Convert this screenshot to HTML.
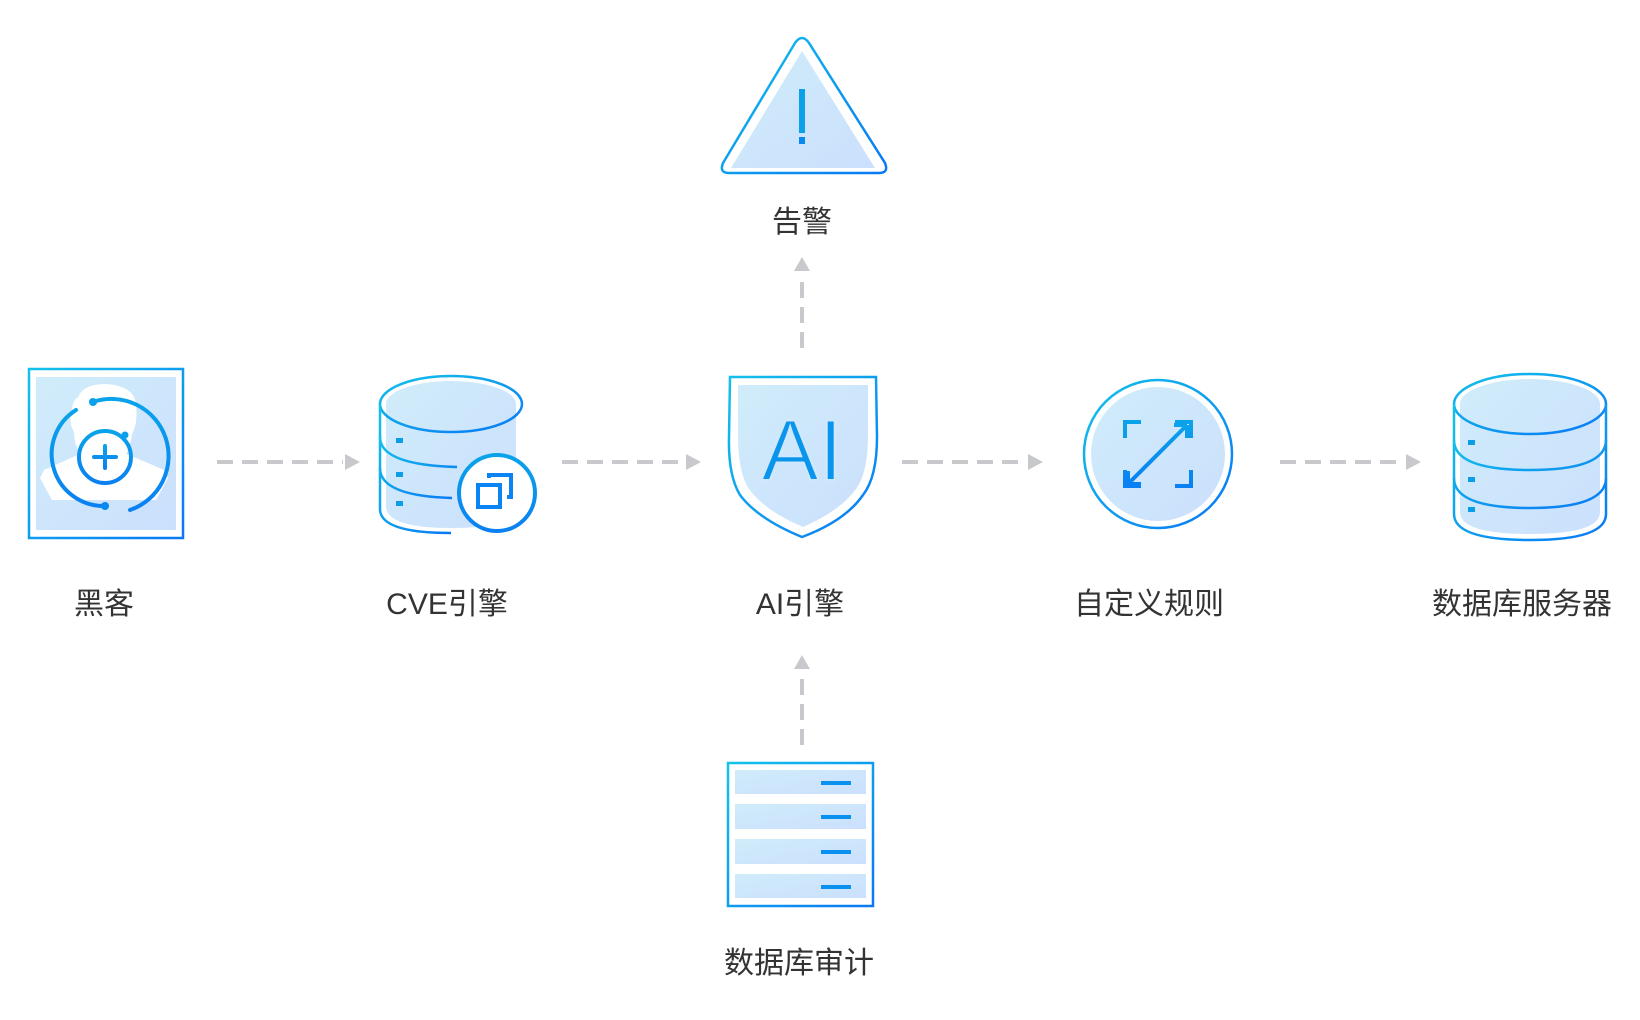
<!DOCTYPE html>
<html><head><meta charset="utf-8"><style>
html,body{margin:0;padding:0;background:#fff;}
svg{display:block}
text{font-family:"Liberation Sans","Noto Sans CJK SC",sans-serif;font-size:30px;fill:#333;text-anchor:middle;}
</style></head><body>
<svg width="1640" height="1020" viewBox="0 0 1640 1020" xmlns="http://www.w3.org/2000/svg">
<defs>
<linearGradient id="f" x1="0" y1="0" x2="1" y2="1"><stop offset="0" stop-color="#d0ecfa"/><stop offset="1" stop-color="#cbe0fd"/></linearGradient>
<linearGradient id="s" x1="0" y1="0" x2="1" y2="1"><stop offset="0" stop-color="#12c2ea"/><stop offset="1" stop-color="#0a78f5"/></linearGradient>
<linearGradient id="b" x1="0" y1="0" x2="0" y2="1"><stop offset="0" stop-color="#0aa3ea"/><stop offset="1" stop-color="#0a80f2"/></linearGradient>
</defs>
<g fill="none" stroke="#c8c9cc" stroke-width="4" stroke-dasharray="16 9">
<line x1="217" y1="462" x2="343" y2="462"/>
<line x1="562" y1="462" x2="684" y2="462"/>
<line x1="902" y1="462" x2="1026" y2="462"/>
<line x1="1280" y1="462" x2="1404" y2="462"/>
<line x1="802" y1="348" x2="802" y2="274"/>
<line x1="802" y1="745" x2="802" y2="672"/>
</g>
<g fill="#c8c9cc">
<polygon points="345,454 360,462 345,470"/>
<polygon points="686,454 701,462 686,470"/>
<polygon points="1028,454 1043,462 1028,470"/>
<polygon points="1406,454 1421,462 1406,470"/>
<polygon points="794,271 802,257 810,271"/>
<polygon points="794,669 802,655 810,669"/>
</g>
<!-- hacker -->
<rect x="29" y="369" width="154" height="169" fill="#fff" stroke="url(#s)" stroke-width="2.5"/>
<rect x="36" y="377" width="140" height="153" fill="url(#f)"/>
<path d="M78 398 q4 -14 28 -14 q28 2 30 20 q2 20 -4 30 q-2 14 -6 20 q20 8 38 16 l4 8 l-12 22 l-104 0 l-12 -22 l4 -8 q18 -8 36 -16 q-6 -10 -6 -22 q-6 -10 -2 -22 q0 -10 8 -14z" fill="#fff"/>
<g fill="none" stroke="url(#b)" stroke-width="4" stroke-linecap="round">
<path d="M93 402 A52 52 0 0 1 130 510"/>
<path d="M76 410 A52 52 0 0 0 105 506"/>
<circle cx="105" cy="457" r="26"/>
<path d="M94 457 h22 M105 446 v22"/>
</g>
<circle cx="93" cy="402" r="4" fill="#0aa0ea"/><circle cx="105" cy="506" r="4" fill="#0a88f0"/><circle cx="125" cy="435" r="3.5" fill="#0aa0ea"/>
<!-- CVE db -->
<path d="M386 404 a65 23 0 0 1 130 0 v102 q0 22 -65 22 q-65 0 -65 -22z" fill="url(#f)"/>
<g fill="none" stroke="url(#s)" stroke-width="2.5">
<ellipse cx="451" cy="404" rx="71" ry="28"/>
<path d="M380 404 v105 q0 24 71 24"/>
<path d="M522 404 v60"/>
<path d="M380 437 q0 28 77 30 M380 468 q0 28 72 30"/>
</g>
<g fill="#0a9ee8"><rect x="396" y="438" width="7" height="5"/><rect x="396" y="472" width="7" height="5"/><rect x="396" y="501" width="7" height="5"/></g>
<circle cx="497" cy="493" r="38" fill="#fff" stroke="url(#b)" stroke-width="4"/>
<g fill="none" stroke="#0a84f2" stroke-width="4"><rect x="478" y="485" width="22" height="22"/><path d="M489 478 v-3 h22 v22 h-4"/></g>
<!-- AI shield -->
<path d="M730 377 h146 l1 60 q0 40 -14 58 q-18 26 -61 42 q-44 -18 -62 -42 q-12 -20 -11 -58z" fill="#fff" stroke="url(#s)" stroke-width="2.5"/>
<path d="M738 385 h130 v50 q0 38 -12 54 q-16 22 -53 38 q-38 -16 -54 -38 q-11 -16 -11 -54z" fill="url(#f)"/>
<text x="802" y="480" style="font-size:86px;fill:#0a95ec;stroke:#d0e8fb;stroke-width:2">AI</text>
<!-- alert -->
<path d="M795 43 q7 -10 14 0 l76 120 q4 10 -6 10 h-150 q-10 0 -6 -10z" fill="#fff" stroke="url(#s)" stroke-width="2.5"/>
<polygon points="802,51 875,168 731,168" fill="url(#f)"/>
<rect x="799" y="89" width="6" height="44" fill="#0aa0ea"/><rect x="799" y="137" width="6" height="7" fill="#0a88f0"/>
<text x="802" y="232">告警</text>
<!-- rule circle -->
<circle cx="1158" cy="454" r="74" fill="#fff" stroke="url(#s)" stroke-width="2.5"/>
<circle cx="1158" cy="454" r="67" fill="url(#f)"/>
<g fill="none" stroke="url(#b)" stroke-width="4">
<path d="M1125 438 v-16 h16 M1175 422 h16 v16 M1125 470 v16 h16 M1191 470 v16 h-16"/>
<path d="M1128 484 L1187 425 M1128 484 v-13 M1128 484 h13 M1187 425 h-13 M1187 425 v13"/>
</g>
<!-- server db -->
<path d="M1460 404 a70 25 0 0 1 140 0 v108 q0 22 -70 22 q-70 0 -70 -22z" fill="url(#f)"/>
<g fill="none" stroke="url(#s)" stroke-width="2.5">
<ellipse cx="1530" cy="404" rx="76" ry="30"/>
<path d="M1454 404 v110 q0 26 76 26 q76 0 76 -26 v-110"/>
<path d="M1454 440 q0 30 76 30 q76 0 76 -30 M1454 478 q0 30 76 30 q76 0 76 -30"/>
</g>
<g fill="#0a9ee8"><rect x="1468" y="440" width="7" height="5"/><rect x="1468" y="477" width="7" height="5"/><rect x="1468" y="507" width="7" height="5"/></g>
<!-- audit -->
<rect x="728" y="763" width="145" height="143" fill="#fff" stroke="url(#s)" stroke-width="2.5"/>
<g fill="url(#f)"><rect x="735" y="770" width="131" height="24"/><rect x="735" y="804" width="131" height="25"/><rect x="735" y="839" width="131" height="25"/><rect x="735" y="874" width="131" height="24"/></g>
<g fill="#0a90ee"><rect x="821" y="781" width="30" height="4"/><rect x="821" y="815" width="30" height="4"/><rect x="821" y="850" width="30" height="4"/><rect x="821" y="885" width="30" height="4"/></g>
<!-- labels -->
<text x="104" y="614">黑客</text>
<text x="447" y="614">CVE引擎</text>
<text x="800" y="614">AI引擎</text>
<text x="1149" y="614">自定义规则</text>
<text x="1522" y="614">数据库服务器</text>
<text x="799" y="973">数据库审计</text>
</svg>
</body></html>
